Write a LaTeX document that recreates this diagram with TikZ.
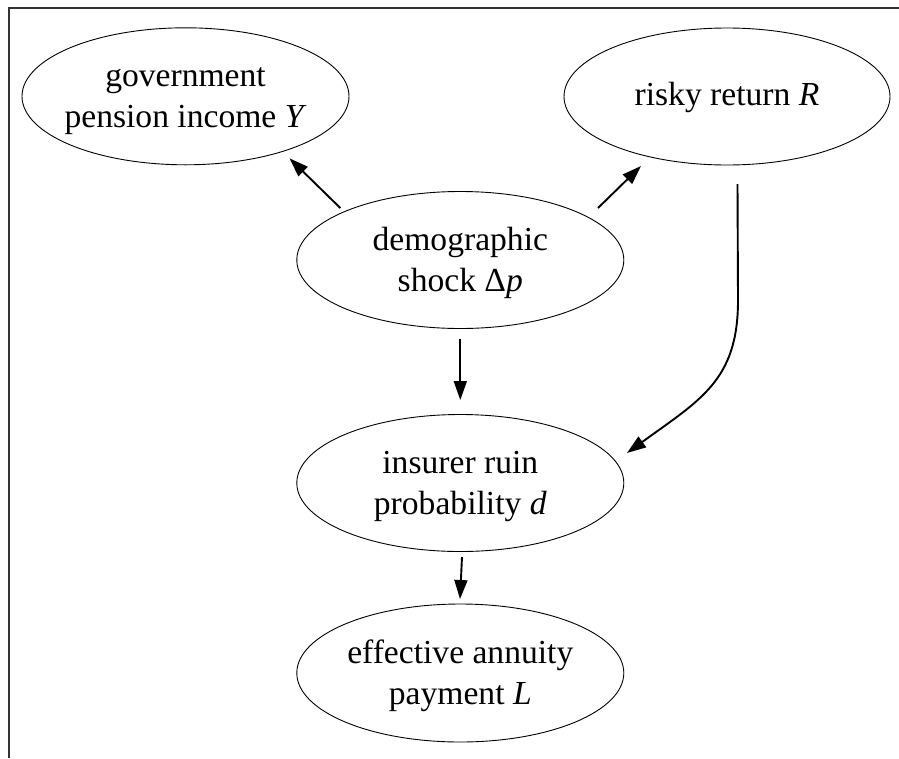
\documentclass[tikz,border=0pt]{standalone}
\usepackage{fontspec}
\setmainfont{Liberation Serif}
\usetikzlibrary{shapes.geometric,arrows.meta,calc}
\tikzset{
  var/.style={draw, ellipse, line width=0.9pt, inner xsep=-10pt, inner ysep=0pt,
    minimum width=327pt, minimum height=137pt, align=center,
    font=\fontsize{33.6}{41}\selectfont},
  edge/.style={line width=1.9pt, -{Triangle[length=19pt,width=13pt]}},
  frame/.style={line width=1.2pt, draw=black!80}
}
\newcommand{\topstrut}{\rule{0pt}{30pt}}
\newcommand{\botstrut}{\rule[-8pt]{0pt}{8pt}}
\begin{document}
\begin{tikzpicture}[x=1pt,y=-1pt]
\useasboundingbox (0,0) rectangle (899,758);
\draw[frame] (9,758) -- (9,8) -- (899,8);

\node[var] (gov) at (185.5,96.3) {\topstrut government\\pension income \textit{Y}\botstrut};
\node[var, minimum width=326pt] (risky) at (727,96.5) {\rule[-8pt]{0pt}{34pt}risky return \textit{R}};
\node[var] (demo) at (460.3,260) {\topstrut demographic\\shock Δ\textit{p}\botstrut};
\node[var] (insurer) at (460.3,483) {\topstrut insurer ruin\\probability \textit{d}\botstrut};
\node[var, minimum height=138pt] (effective) at (460.3,673) {\topstrut effective annuity\\payment \textit{L}\botstrut};

\draw[edge] ($(demo)+(-120,-52)$) -- ($(gov)+(104,62)$);
\draw[edge] ($(demo)+(137.7,-52)$) -- ($(risky)+(-86,69.5)$);
\draw[edge] ($(demo)+(0,79)$) -- ($(insurer)+(0,-83)$);
\draw[edge] ($(insurer)+(1.7,74)$) -- ($(effective)+(-0.3,-74)$);
\draw[edge] ($(risky)+(10.5,87.5)$) -- ($(risky)+(11,204)$)
  .. controls ($(risky)+(11,284)$) and ($(insurer)+(239.7,-83)$) .. ($(insurer)+(166.7,-30)$);
\end{tikzpicture}
\end{document}
